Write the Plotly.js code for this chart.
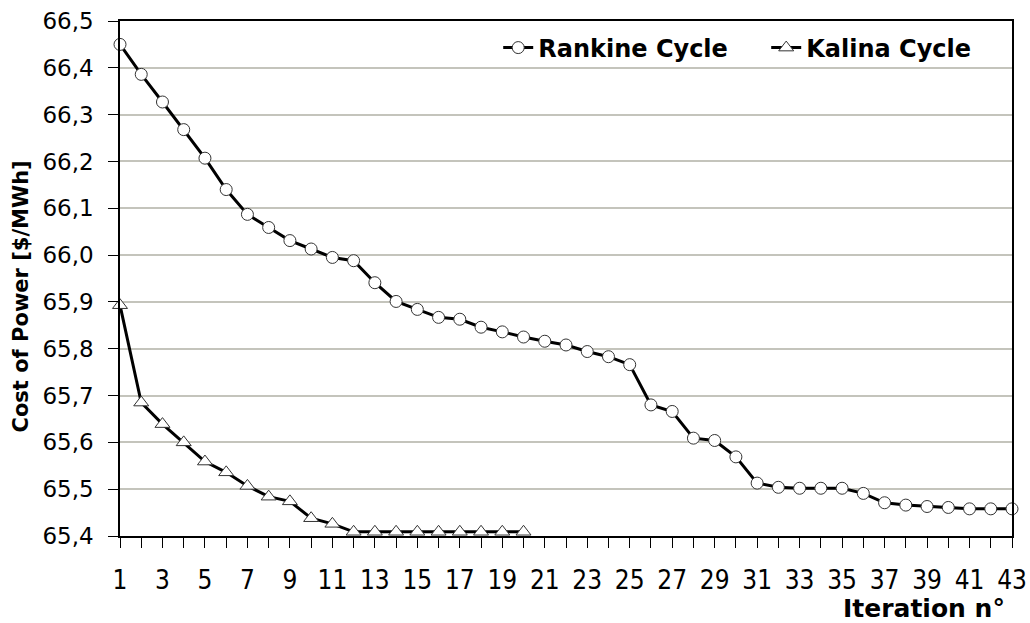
<!DOCTYPE html>
<html>
<head>
<meta charset="utf-8">
<script src="https://cdn.plot.ly/plotly-3.0.1.min.js"></script>
<style>html,body{margin:0;padding:0;background:#fff;}#chart{width:1030px;height:623px;}</style>
</head>
<body>
<div id="chart"></div>
<script>
const rankineIter = [1,2,3,4,5,6,7,8,9,10,11,12,13,14,15,16,17,18,19,20,21,22,23,24,25,26,27,28,29,30,31,32,33,34,35,36,37,38,39,40,41,42,43];
const rankineCost = [66.450,66.386,66.327,66.268,66.207,66.140,66.087,66.059,66.031,66.013,65.995,65.988,65.941,65.901,
  65.884,65.867,65.863,65.846,65.836,65.825,65.816,65.808,65.794,65.783,65.766,65.680,65.666,65.609,65.604,65.569,
  65.513,65.504,65.502,65.502,65.502,65.491,65.471,65.466,65.463,65.461,65.458,65.458,65.458];
const kalinaIter = [1,2,3,4,5,6,7,8,9,10,11,12,13,14,15,16,17,18,19,20];
const kalinaCost = [65.893,65.685,65.639,65.600,65.559,65.536,65.507,65.484,65.474,65.438,65.426,65.409,
  65.409,65.409,65.409,65.409,65.409,65.409,65.409,65.409];
const xTickVals = [1,3,5,7,9,11,13,15,17,19,21,23,25,27,29,31,33,35,37,39,41,43];
const yTickVals = [65.4,65.5,65.6,65.7,65.8,65.9,66.0,66.1,66.2,66.3,66.4,66.5];
const seriesNames = ['Rankine Cycle','Kalina Cycle'];

const traces = [
  {x: rankineIter, y: rankineCost, name: seriesNames[0], type: 'scatter', mode: 'lines+markers', cliponaxis: false,
   line: {color: '#000', width: 3},
   marker: {symbol: 'circle', size: 12, color: '#fff', line: {color: '#333', width: 1}}},
  {x: kalinaIter, y: kalinaCost, name: seriesNames[1], type: 'scatter', mode: 'lines+markers', cliponaxis: false,
   line: {color: '#000', width: 3},
   marker: {symbol: 'triangle-up', size: 13, color: '#fff', line: {color: '#333', width: 1}}}
];

const layout = {
  width: 1030, height: 623,
  margin: {l: 120, r: 18, t: 21, b: 87, autoexpand: false},
  paper_bgcolor: '#fff', plot_bgcolor: '#fff',
  separators: ',.',
  showlegend: true,
  legend: {orientation: 'h', x: 0.424, xanchor: 'left', y: 0.9476, yanchor: 'middle',
           font: {family: 'DejaVu Sans', size: 24, color: '#000', weight: 'bold'},
           bgcolor: 'rgba(0,0,0,0)', itemwidth: 30, entrywidth: 223, entrywidthmode: 'pixels'},
  xaxis: {range: [1, 43], tickmode: 'array', tickvals: xTickVals, ticks: 'outside', ticklen: 10, tickcolor: '#000',
          showgrid: false, zeroline: false, showline: true, linecolor: '#000', linewidth: 1.5, mirror: true,
          ticklabelstandoff: 10, automargin: false,
          tickfont: {family: 'DejaVu Sans Condensed, Liberation Sans', size: 26, color: '#000'},
          minor: {tick0: 1, dtick: 1, ticks: 'outside', ticklen: 10, tickcolor: '#000', showgrid: false}},
  yaxis: {range: [65.4, 66.5], tickmode: 'array', tickvals: yTickVals, tickformat: '.1f', ticks: 'outside', ticklen: 10,
          tickcolor: '#000', showgrid: true, gridcolor: '#c4c4bc', gridwidth: 1.5, zeroline: false, automargin: false,
          showline: true, linecolor: '#000', linewidth: 1.5, mirror: true, ticklabelstandoff: 10,
          tickfont: {family: 'DejaVu Sans', size: 23, color: '#000'}},
  annotations: [
    {text: 'Cost of Power [$/MWh]', xref: 'paper', yref: 'paper', x: 0, y: 0.5, xshift: -100, yshift: -18, textangle: -90,
     xanchor: 'center', yanchor: 'middle', showarrow: false,
     font: {family: 'DejaVu Sans', size: 21, color: '#000', weight: 'bold'}},
    {text: 'Iteration n°', xref: 'paper', yref: 'paper', x: 1, y: 0, xshift: -5, yshift: -72,
     xanchor: 'right', yanchor: 'middle', showarrow: false,
     font: {family: 'DejaVu Sans', size: 25, color: '#000', weight: 'bold'}}
  ]
};

Plotly.newPlot('chart', traces, layout, {displayModeBar: false, responsive: false});
</script>
</body>
</html>
